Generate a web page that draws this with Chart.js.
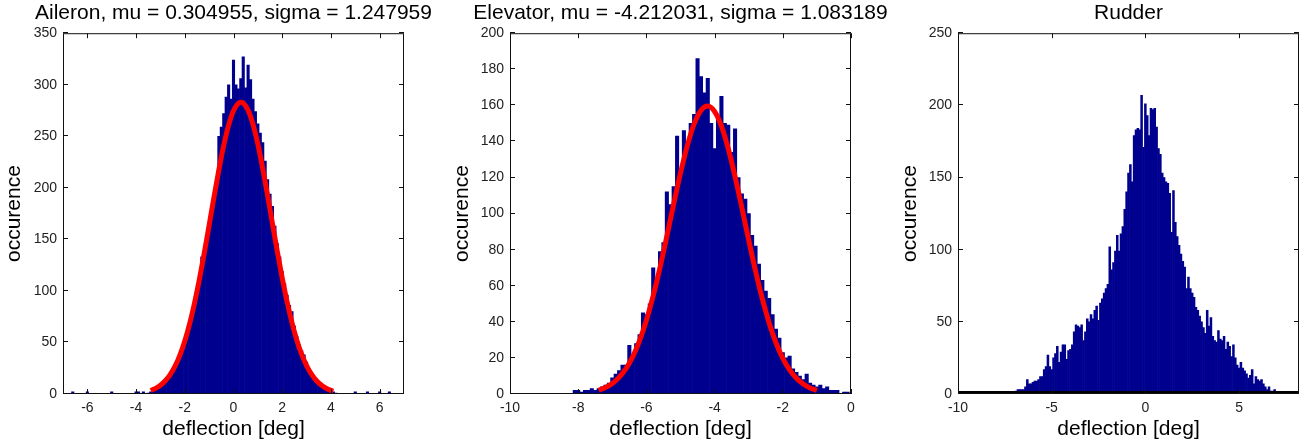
<!DOCTYPE html>
<html><head><meta charset="utf-8">
<script src="https://cdn.jsdelivr.net/npm/chart.js@4.4.1/dist/chart.umd.min.js"></script>
<style>
html,body{margin:0;padding:0;background:#fff;overflow:hidden;width:1306px;height:446px;position:relative;}
canvas{position:absolute;top:0;}
</style></head><body>
<canvas id="c1" width="467" height="446" style="left:0px"></canvas>
<canvas id="c2" width="481" height="446" style="left:440px"></canvas>
<canvas id="c3" width="497" height="446" style="left:880px"></canvas>
<script>
// ---------- titles / labels ----------
const titles = ['Aileron, mu = 0.304955, sigma = 1.247959',
                'Elevator, mu = -4.212031, sigma = 1.083189',
                'Rudder'];
const xLabel = 'deflection [deg]';
const yLabel = 'occurence';

// ---------- tick labels ----------
const ailXTicks = [-6, -4, -2, 0, 2, 4, 6];
const ailYTicks = [0, 50, 100, 150, 200, 250, 300, 350];
const eleXTicks = [-10, -8, -6, -4, -2, 0];
const eleYTicks = [0, 20, 40, 60, 80, 100, 120, 140, 160, 180, 200];
const rudXTicks = [-10, -5, 0, 5];
const rudYTicks = [0, 50, 100, 150, 200, 250];

// ---------- histogram bins (width 0.1 deg) ----------
const binStep = 0.1;
const ailStart = -3.5;
const ailCounts = [1,2,3,4,5,7,9,11,14,17,21,25,30,36,42,49,58,66,76,86,98,112,133,134,147,160,174,188,203,250,259,272,288,300,286,
  324,300,296,306,327,297,319,305,286,274,262,253,244,226,208,194,182,163,146,133,119,107,96,86,80,66,56,48,42,38,31,25,20,16,13,11,9,7,5,4,3,2,1];
const ailOutX = [-6.6, -6.0, -5.0, -4.0, -3.9, -3.7, 5.0, 5.5, 6.0, 6.4];
const ailOutY = [2, 2, 2, 2, 2, 2, 2, 2, 2, 2];

const eleStart = -8.1;
const eleCounts = [2,2,1,2,2,3,2,3,4,5,6,9,
  11,13,16,16,27,21,28,33,45,44,
  50,70,64,79,84,112,105,115,143,125,
  146,140,150,155,186,176,167,175,150,136,
  154,165,150,149,134,147,120,111,108,100,
  88,82,72,63,57,53,44,36,31,23,
  20,21,14,12,10,8,11,6,5,4,
  5,3,4,2,2,2,0,1,1];

const rudStart = -6.9;
const rudCounts = [2,3,3,3,3,5,10,7,7,8,
  9,9,10,12,12,17,19,27,19,17,
  25,28,33,22,29,34,34,24,30,31,
  34,43,48,47,46,48,37,43,52,50,
  55,52,58,61,51,63,66,70,73,76,
  102,86,91,99,110,99,111,116,128,140,
  153,159,147,179,183,184,183,207,171,
  201,193,179,198,197,198,185,170,166,153,
  150,147,146,139,112,141,119,109,103,97,
  92,88,73,81,73,70,67,60,58,54,
  50,46,42,58,47,53,40,37,36,44,
  38,37,40,31,36,33,26,34,25,20,
  18,22,18,16,14,11,13,17,7,12,
  10,9,10,7,5,3,5,2,2,3,1];

// ---------- fitted normal curves ----------
const ailFitX = [-3.4,-3.2,-3.0,-2.8,-2.6,-2.4,-2.2,-2.0,-1.8,-1.6,-1.4,-1.2,-1.0,-0.8,-0.6,-0.4,-0.2,0.0,0.2,0.3,0.4,0.6,0.8,1.0,1.2,1.4,1.6,1.8,2.0,2.2,2.4,2.6,2.8,3.0,3.2,3.4,3.6,3.8,4.0,4.1];
const ailFitY = [3.4,5.5,8.5,12.8,18.9,27.0,37.8,51.4,68.2,88.3,111.3,136.8,163.8,191.2,217.6,241.3,260.8,274.7,282.0,283.0,282.2,275.2,261.6,242.4,218.8,192.6,165.2,138.1,112.5,89.4,69.2,52.2,38.4,27.5,19.2,13.1,8.7,5.6,3.5,2.8];
const eleFitX = [-7.4,-7.2,-7.0,-6.8,-6.6,-6.4,-6.2,-6.0,-5.8,-5.6,-5.4,-5.2,-5.0,-4.8,-4.6,-4.4,-4.2,-4.0,-3.8,-3.6,-3.4,-3.2,-3.0,-2.8,-2.6,-2.4,-2.2,-2.0,-1.8,-1.6,-1.4,-1.2,-1.0];
const eleFitY = [2.1,3.6,5.8,9.2,14.0,20.7,29.6,40.9,54.5,70.2,87.5,105.3,122.5,137.7,149.7,157.2,159.6,156.6,148.5,136.1,120.5,103.2,85.3,68.2,52.7,39.4,28.4,19.8,13.4,8.7,5.5,3.3,2.0];

// Rudder zero-height baseline
const rudBaseX = [-10, 8.2];
const rudBaseY = [0, 0];

// ---------- helpers ----------
const FONT = '"Liberation Sans", Arial, Helvetica, sans-serif';
Chart.defaults.font.family = FONT;

function binned(start, counts) {
  return counts.map((c, i) => ({x: Math.round((start + i * binStep) * 100) / 100, y: c}));
}
function pts(xs, ys) { return xs.map((v, i) => ({x: v, y: ys[i]})); }

const boxPlugin = {
  id: 'matlabBox',
  afterDatasetsDraw(chart) {
    const {ctx, chartArea: {left, top, right, bottom}, scales: {x, y}} = chart;
    ctx.save();
    ctx.strokeStyle = '#111';
    ctx.lineWidth = 1;
    ctx.beginPath();
    x.ticks.forEach(t => {
      const p = Math.round(x.getPixelForValue(t.value)) + 0.5;
      ctx.moveTo(p, bottom); ctx.lineTo(p, bottom - 5);
      ctx.moveTo(p, top); ctx.lineTo(p, top + 5);
    });
    y.ticks.forEach(t => {
      const p = Math.round(y.getPixelForValue(t.value)) - 0.5;
      ctx.moveTo(left, p); ctx.lineTo(left + 5, p);
      ctx.moveTo(right, p); ctx.lineTo(right - 5, p);
    });
    ctx.stroke();
    ctx.strokeRect(left + 0.5, top + 0.5, right - left - 1, bottom - top - 1);
    ctx.restore();
  }
};

function makeChart(id, o) {
  const datasets = [];
  if (o.fit) datasets.push({type: 'line', data: o.fit, borderColor: '#ff0000', borderWidth: 5,
    pointRadius: 0, cubicInterpolationMode: 'monotone', order: 0});
  if (o.base) datasets.push({type: 'line', data: o.base, borderColor: '#000', borderWidth: 6,
    pointRadius: 0, clip: 0, order: 0});
  datasets.push({type: 'bar', data: o.hist, backgroundColor: '#00008f', borderWidth: 0,
    barPercentage: 1, categoryPercentage: 1, order: 1});
  const setTicks = arr => (s => { s.ticks = arr.map(v => ({value: v})); });
  return new Chart(document.getElementById(id), {
    type: 'bar',
    data: {datasets},
    options: {
      responsive: false, animation: false, events: [],
      layout: {padding: 0},
      plugins: {
        legend: {display: false}, tooltip: {enabled: false},
        title: {display: true, text: o.title, fullSize: true, color: '#000',
          font: {size: 21, weight: 'normal', family: FONT}, padding: {top: 1, bottom: 7}}
      },
      scales: {
        x: {type: 'linear', min: o.xMin, max: o.xMax, offset: false,
          afterBuildTicks: setTicks(o.xTicks),
          afterFit: s => { s.height = 52; },
          grid: {display: false, drawTicks: false}, border: {display: false},
          ticks: {color: '#222', font: {size: 14}, padding: 6, maxRotation: 0, autoSkip: false},
          title: {display: true, text: xLabel, color: '#000', font: {size: 21}, padding: {top: 0, bottom: 4}}},
        y: {type: 'linear', position: 'left', min: 0, max: o.yMax,
          afterBuildTicks: setTicks(o.yTicks),
          afterFit: s => { s.width = o.yw; },
          grid: {display: false, drawTicks: false}, border: {display: false},
          ticks: {color: '#222', font: {size: 14}, padding: 6},
          title: {display: true, text: yLabel, color: '#000', font: {size: 21}, padding: {top: o.yTitlePad, bottom: 0}}},
        yr: {type: 'linear', position: 'right', display: true, min: 0, max: 1,
          afterFit: s => { s.width = o.yw; },
          grid: {display: false, drawTicks: false}, border: {display: false},
          ticks: {display: false}}
      }
    },
    plugins: [boxPlugin]
  });
}

makeChart('c1', {title: titles[0], xMin: -7, xMax: 7, xTicks: ailXTicks, yMax: 350, yTicks: ailYTicks,
  yw: 63, yTitlePad: 1.9,
  hist: binned(ailStart, ailCounts).concat(pts(ailOutX, ailOutY)),
  fit: pts(ailFitX, ailFitY)});
makeChart('c2', {title: titles[1], xMin: -10, xMax: 0, xTicks: eleXTicks, yMax: 200, yTicks: eleYTicks,
  yw: 70, yTitlePad: 10.1,
  hist: binned(eleStart, eleCounts),
  fit: pts(eleFitX, eleFitY)});
makeChart('c3', {title: titles[2], xMin: -10, xMax: 8.2, xTicks: rudXTicks, yMax: 250, yTicks: rudYTicks,
  yw: 78, yTitlePad: 17.3,
  hist: binned(rudStart, rudCounts),
  base: pts(rudBaseX, rudBaseY)});
</script>
</body></html>
